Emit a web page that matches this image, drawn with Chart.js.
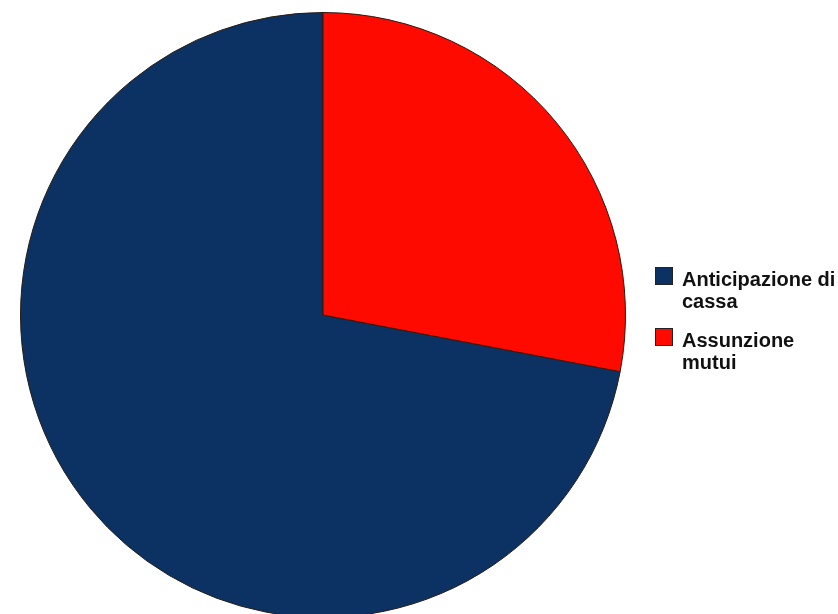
<!DOCTYPE html>
<html><head><meta charset="utf-8">
<script src="https://cdn.jsdelivr.net/npm/chart.js@4"></script>
<style>
html,body{margin:0;padding:0;background:#fff;overflow:hidden;width:838px;height:614px;}
#wrap{position:absolute;left:0;top:0;width:838px;height:620px;}
#legend{position:absolute;left:655px;top:268px;font-family:"Liberation Sans",Arial,sans-serif;font-size:20px;font-weight:bold;color:#111;line-height:22px;}
.item{position:relative;padding-left:27px;margin-bottom:17px;white-space:nowrap;}
.sw{position:absolute;left:0;top:-1px;width:18px;height:18px;border:1px solid #222;box-sizing:border-box;}
</style></head>
<body>
<div id="wrap"><canvas id="c" width="838" height="620"></canvas></div>
<div id="legend"></div>
<script>
const categories = ["Anticipazione di cassa", "Assunzione mutui"];
const legendLines = [["Anticipazione di", "cassa"], ["Assunzione", "mutui"]];
const values = [72, 28];
const colors = ["#0b3262", "#ff0a00"];

const total = values.reduce((a, b) => a + b, 0);
const rotation = values[1] / total * 360;

new Chart(document.getElementById('c'), {
  type: 'pie',
  data: {
    labels: categories,
    datasets: [{
      data: values,
      backgroundColor: colors,
      borderColor: '#2a1a10',
      borderWidth: 1
    }]
  },
  options: {
    responsive: false,
    animation: false,
    rotation: rotation,
    layout: { padding: { left: 20, right: 212, top: 12, bottom: 2 } },
    plugins: { legend: { display: false }, tooltip: { enabled: false } }
  }
});

const lg = document.getElementById('legend');
categories.forEach((c, i) => {
  const d = document.createElement('div');
  d.className = 'item';
  d.innerHTML = '<span class="sw" style="background:' + colors[i] + '"></span>' + legendLines[i].join('<br>');
  lg.appendChild(d);
});
</script>
</body></html>
